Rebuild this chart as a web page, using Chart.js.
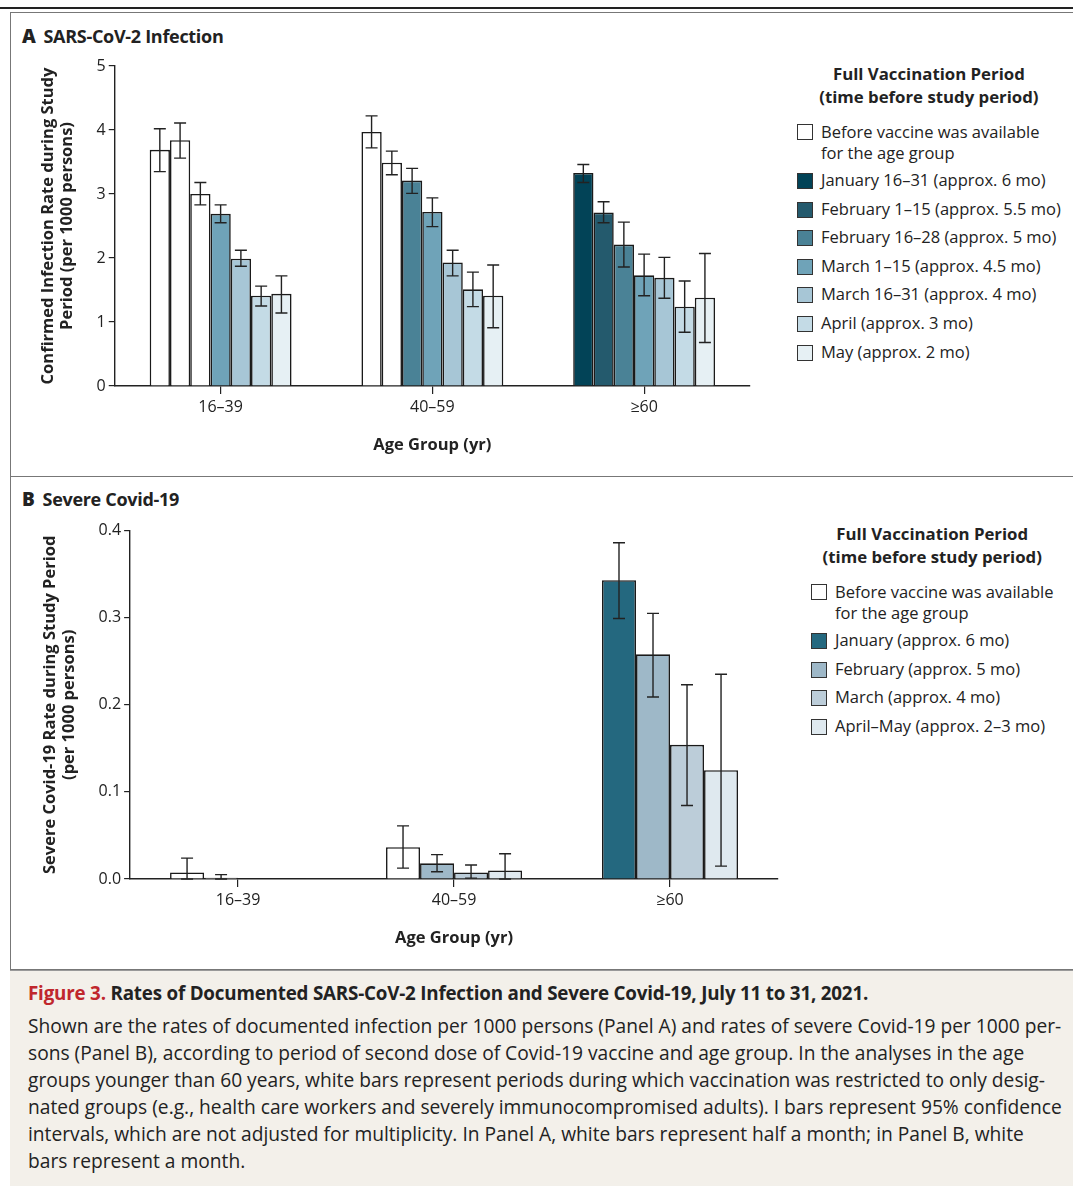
<!DOCTYPE html>
<html>
<head>
<meta charset="utf-8">
<script src="https://cdn.jsdelivr.net/npm/chart.js@4.4.1/dist/chart.umd.min.js"></script>
<style>
  body { margin: 0; background: #fff; font-family: "Open Sans", sans-serif; color: #222; }
  #page { position: relative; width: 1073px; height: 1186px; overflow: hidden; }
  .rule-top { position: absolute; left: 0; top: 7px; width: 1073px; height: 2px; background: #222; }
  .frame { position: absolute; left: 10px; top: 12px; width: 1080px; height: 958px; border: 1px solid #777; box-sizing: border-box; }
  .divider { position: absolute; left: 10px; top: 476px; width: 1073px; height: 1px; background: #777; }
  .ptitle { position: absolute; font-weight: bold; font-size: 18px; letter-spacing: -0.3px; }
  .ptitle b { font-size: 19px; margin-right: 8px; }
  .legend { position: absolute; font-size: 16.5px; line-height: 28.6px; }
  .legend .hd { font-weight: bold; text-align: center; line-height: 23px; font-size: 16.8px; margin-bottom: 9px; }
  .legend .row { position: relative; padding-left: 24px; white-space: nowrap; }
  .legend .sw { position: absolute; left: 0; top: 7px; width: 14px; height: 14px; border: 1px solid #333; }
  .legend .row.two { line-height: 21px; padding-top: 4px; padding-bottom: 3px; }
  .legend .row.two .sw { top: 7px; }
  canvas { position: absolute; }
  #caption { position: absolute; left: 10px; top: 970px; width: 1063px; height: 216px; background: #f3f0ea; border-top: 1px solid #999; }
  #caption .t { position: absolute; left: 18px; top: 9px; font-weight: bold; font-size: 18.8px; letter-spacing: -0.2px; white-space: nowrap; }
  #caption .t span { color: #c0272d; }
  #caption .b { position: absolute; left: 18px; top: 41px; width: 1080px; font-size: 19.2px; line-height: 27px; white-space: nowrap; }
</style>
</head>
<body>
<div id="page">
  <div class="rule-top"></div>
  <div class="frame"></div>
  <div class="divider"></div>

  <div class="ptitle" style="left:22px; top:23px;"><b>A</b>SARS-CoV-2 Infection</div>
  <div class="ptitle" style="left:22px; top:486px;"><b>B</b>Severe Covid-19</div>

  <canvas id="chartA" style="left:34px; top:53px;" width="746" height="406"></canvas>
  <canvas id="chartB" style="left:36px; top:518px;" width="772" height="434"></canvas>

  <div class="legend" id="legendA" style="left:797px; top:62px;"></div>
  <div class="legend" id="legendB" style="left:811px; top:522px;"></div>

  <div id="caption">
    <div class="t"><span>Figure 3.</span> Rates of Documented SARS-CoV-2 Infection and Severe Covid-19, July 11 to 31, 2021.</div>
    <div class="b">Shown are the rates of documented infection per 1000 persons (Panel A) and rates of severe Covid-19 per 1000 per-<br>sons (Panel B), according to period of second dose of Covid-19 vaccine and age group. In the analyses in the age<br>groups younger than 60 years, white bars represent periods during which vaccination was restricted to only desig-<br>nated groups (e.g., health care workers and severely immunocompromised adults). I bars represent 95% confidence<br>intervals, which are not adjusted for multiplicity. In Panel A, white bars represent half a month; in Panel B, white<br>bars represent a month.</div>
  </div>
</div>

<script>
// Grupos de edad
const ageGroups = ['16\u201339', '40\u201359', '\u226560'];

// Panel A: tasa de infección (por 1000), 7 barras por grupo
const infectionRates = [
  [3.69, 3.84, 3.00, 2.69, 1.99, 1.41, 1.44],
  [3.97, 3.49, 3.21, 2.72, 1.93, 1.51, 1.41],
  [3.33, 2.71, 2.21, 1.73, 1.69, 1.24, 1.38]
];
const infectionLow = [
  [3.35, 3.56, 2.83, 2.55, 1.87, 1.25, 1.14],
  [3.72, 3.30, 3.01, 2.49, 1.72, 1.24, 0.91],
  [3.18, 2.55, 1.86, 1.41, 1.37, 0.84, 0.68]
];
const infectionHigh = [
  [4.02, 4.11, 3.18, 2.83, 2.12, 1.56, 1.72],
  [4.22, 3.67, 3.40, 2.94, 2.12, 1.78, 1.89],
  [3.46, 2.88, 2.56, 2.06, 2.01, 1.64, 2.07]
];
const infectionColors = [
  ['#ffffff', '#ffffff', '#ffffff', '#6fa3b8', '#a7c6d6', '#c4dbe6', '#e6f0f4'],
  ['#ffffff', '#ffffff', '#4a8296', '#6fa3b8', '#a7c6d6', '#c4dbe6', '#e6f0f4'],
  ['#024357', '#245a6d', '#4a8296', '#6fa3b8', '#a7c6d6', '#c4dbe6', '#e6f0f4']
];
const legendALabels = ['Before vaccine was available|for the age group', 'January 16\u201331 (approx. 6 mo)', 'February 1\u201315 (approx. 5.5 mo)', 'February 16\u201328 (approx. 5 mo)', 'March 1\u201315 (approx. 4.5 mo)', 'March 16\u201331 (approx. 4 mo)', 'April (approx. 3 mo)', 'May (approx. 2 mo)'];
const legendAColors = ['#ffffff', '#024357', '#245a6d', '#4a8296', '#6fa3b8', '#a7c6d6', '#c4dbe6', '#e6f0f4'];

// Panel B: tasa de Covid-19 grave (por 1000), 4 barras por grupo
const severeRates = [
  [0.0076, 0.0015, 0.0003, 0.0003],
  [0.0365, 0.018, 0.0076, 0.0099],
  [0.343, 0.258, 0.154, 0.125]
];
const severeLow = [
  [0.0, 0.0, null, null],
  [0.0125, 0.0084, 0.001, 0.0],
  [0.299, 0.209, 0.0844, 0.0148]
];
const severeHigh = [
  [0.024, 0.005, null, null],
  [0.061, 0.028, 0.016, 0.029],
  [0.386, 0.305, 0.223, 0.235]
];
const severeColors = [
  ['#ffffff', '#ffffff', '#ffffff', '#ffffff'],
  ['#ffffff', '#9eb8c8', '#bccdd9', '#dfe9ef'],
  ['#24687f', '#9eb8c8', '#bccdd9', '#dfe9ef']
];
const legendBLabels = ['Before vaccine was available|for the age group', 'January (approx. 6 mo)', 'February (approx. 5 mo)', 'March (approx. 4 mo)', 'April\u2013May (approx. 2\u20133 mo)'];
const legendBColors = ['#ffffff', '#24687f', '#9eb8c8', '#bccdd9', '#dfe9ef'];

function buildLegend(id, labels, colors) {
  let html = '<div class="hd">Full Vaccination Period<br>(time before study period)</div>';
  labels.forEach((lab, i) => {
    const two = lab.indexOf('|') >= 0;
    html += '<div class="row' + (two ? ' two' : '') + '"><span class="sw" style="background:' + colors[i] + '"></span>' + lab.replace('|', '<br>') + '</div>';
  });
  document.getElementById(id).innerHTML = html;
}
buildLegend('legendA', legendALabels, legendAColors);
buildLegend('legendB', legendBLabels, legendBColors);

// arma datasets: uno por posición de barra dentro del grupo
function makeDatasets(rates, lows, highs, colors, pct) {
  const n = rates[0].length;
  const sets = [];
  for (let k = 0; k < n; k++) {
    sets.push({
      data: rates.map(g => g[k]),
      errLow: lows.map(g => g[k]),
      errHigh: highs.map(g => g[k]),
      backgroundColor: colors.map(g => g[k]),
      borderColor: '#1a1a1a',
      borderWidth: 1.6,
      borderSkipped: 'bottom',
      categoryPercentage: pct,
      barPercentage: 1.0
    });
  }
  return sets;
}

// barras de error (I bars)
const errorBars = {
  id: 'errorBars',
  afterDatasetsDraw(chart) {
    const { ctx, scales: { y } } = chart;
    ctx.save();
    ctx.strokeStyle = '#222';
    ctx.lineWidth = 1.4;
    chart.data.datasets.forEach((ds, di) => {
      const meta = chart.getDatasetMeta(di);
      meta.data.forEach((bar, i) => {
        const lo = ds.errLow[i], hi = ds.errHigh[i];
        if (lo == null || hi == null) return;
        const x = bar.x;
        const y1 = y.getPixelForValue(lo), y2 = y.getPixelForValue(hi);
        const cap = 6;
        ctx.beginPath();
        ctx.moveTo(x, y1); ctx.lineTo(x, y2);
        ctx.moveTo(x - cap, y1); ctx.lineTo(x + cap, y1);
        ctx.moveTo(x - cap, y2); ctx.lineTo(x + cap, y2);
        ctx.stroke();
      });
    });
    ctx.restore();
  }
};

function makeOptions(yMax, yStep, yTitle, decimals, padTop) {
  return {
    responsive: false,
    animation: false,
    layout: { padding: { top: padTop, right: 30 } },
    plugins: { legend: { display: false }, tooltip: { enabled: false } },
    scales: {
      x: {
        offset: true,
        grid: { display: true, drawOnChartArea: false, offset: false, tickLength: 8, color: '#222', lineWidth: 1.2 },
        border: { color: '#222', width: 1.4 },
        ticks: { color: '#222', font: { family: 'Open Sans', size: 16 }, padding: 4 },
        title: { display: true, text: 'Age Group (yr)', color: '#222', font: { family: 'Open Sans', size: 16.5, weight: 'bold' }, padding: { top: 14 } }
      },
      y: {
        min: 0, max: yMax,
        grid: { display: true, drawOnChartArea: false, tickLength: 6, color: '#222', lineWidth: 1.2 },
        border: { color: '#222', width: 1.4 },
        ticks: { stepSize: yStep, color: '#222', font: { family: 'Open Sans', size: 16 }, padding: 3,
                 callback: v => v.toFixed(decimals) },
        title: { display: true, text: yTitle, color: '#222', font: { family: 'Open Sans', size: 16.5, weight: 'bold' }, padding: { bottom: 16 } }
      }
    }
  };
}

new Chart(document.getElementById('chartA'), {
  type: 'bar',
  data: { labels: ageGroups, datasets: makeDatasets(infectionRates, infectionLow, infectionHigh, infectionColors, 0.67) },
  options: makeOptions(5, 1, ['Confirmed Infection Rate during Study', 'Period (per 1000 persons)'], 0, 13),
  plugins: [errorBars]
});

new Chart(document.getElementById('chartB'), {
  type: 'bar',
  data: { labels: ageGroups, datasets: makeDatasets(severeRates, severeLow, severeHigh, severeColors, 0.63) },
  options: makeOptions(0.4, 0.1, ['Severe Covid-19 Rate during Study Period', '(per 1000 persons)'], 1, 12),
  plugins: [errorBars]
});
</script>
</body>
</html>
